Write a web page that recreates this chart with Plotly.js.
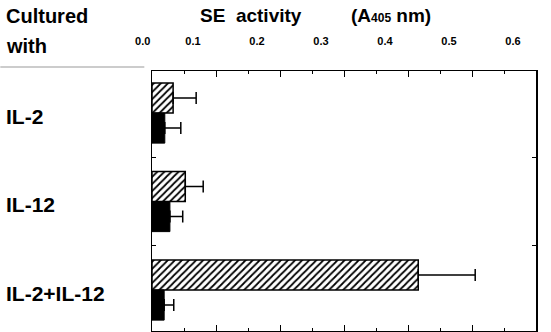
<!DOCTYPE html>
<html>
<head>
<meta charset="utf-8">
<script src="https://cdn.plot.ly/plotly-3.0.1.min.js"></script>
<style>html,body{margin:0;padding:0;background:#fff;}#chart{width:551px;height:332px;}</style>
</head>
<body>
<div id="chart"></div>
<script>
const categories = ["IL-2", "IL-12", "IL-2+IL-12"];
const hatchedValues = [0.033, 0.052, 0.416];
const hatchedErrors = [0.036, 0.028, 0.089];
const blackValues = [0.020, 0.028, 0.019];
const blackErrors = [0.025, 0.020, 0.015];
const tickValues = [0, 0.1, 0.2, 0.3, 0.4, 0.5, 0.6];
const tickLabels = ["\u00a0\u00a0\u00a0\u00a0\u00a0\u00a0\u00a0\u00a0\u00a00.0", "0.1", "0.2", "0.3", "0.4", "0.5", "0.6"];

const FONT = "Liberation Sans, Arial, Helvetica, sans-serif";

const traces = [
  {
    type: "bar", orientation: "h",
    y: categories, x: hatchedValues,
    marker: {
      color: "#ffffff",
      pattern: {shape: "/", fgcolor: "#000000", bgcolor: "#ffffff", size: 5, solidity: 0.35},
      line: {color: "#000000", width: 1.5}
    },
    error_x: {type: "data", array: hatchedErrors, arrayminus: hatchedErrors.map(() => 0), symmetric: false,
              color: "#000000", thickness: 1.5, width: 6},
    showlegend: false, hoverinfo: "skip"
  },
  {
    type: "bar", orientation: "h",
    y: categories, x: blackValues,
    marker: {color: "#000000", line: {color: "#000000", width: 1}},
    error_x: {type: "data", array: blackErrors, arrayminus: blackErrors.map(() => 0), symmetric: false,
              color: "#000000", thickness: 1.5, width: 6},
    showlegend: false, hoverinfo: "skip"
  }
];

const annotations = categories.map(c => ({
  xref: "paper", yref: "y", x: -0.385, y: c, xanchor: "left", yanchor: "middle",
  yshift: -3, text: "<b>" + c + "</b>", showarrow: false,
  font: {family: FONT, size: 21, color: "#000"}
}));
annotations.push(
  {xref: "paper", yref: "paper", x: -0.385, y: 1.21, xanchor: "left", yanchor: "middle",
   text: "<b>Cultured</b>", showarrow: false, font: {family: FONT, size: 20, color: "#000"}},
  {xref: "paper", yref: "paper", x: -0.385, y: 1.095, xanchor: "left", yanchor: "middle",
   text: "<b>with</b>", showarrow: false, font: {family: FONT, size: 20, color: "#000"}},
  {xref: "paper", yref: "paper", x: 0.12, y: 1.215, xanchor: "left", yanchor: "middle",
   text: "<b>SE  activity</b>", showarrow: false, font: {family: FONT, size: 19, color: "#000"}},
  {xref: "paper", yref: "paper", x: 0.513, y: 1.215, xanchor: "left", yanchor: "middle",
   text: "<b>(A<span style='font-size:12px'>405</span> nm)</b>", showarrow: false,
   font: {family: FONT, size: 19, color: "#000"}}
);

const layout = {
  width: 551, height: 332,
  margin: {l: 152, r: 15, t: 71, b: 1, pad: 0},
  paper_bgcolor: "#ffffff", plot_bgcolor: "#ffffff",
  barmode: "group", bargap: 0.32, bargroupgap: 0,
  xaxis: {
    side: "top", range: [0, 0.6], tickvals: tickValues, ticktext: tickLabels,
    ticks: "inside", ticklen: 6, tickwidth: 1, tickcolor: "#000",
    minor: {dtick: 0.05, tick0: 0.05, ticks: "inside", ticklen: 3, tickcolor: "#000"},
    showline: true, linecolor: "#000", linewidth: 1.5, mirror: "ticks",
    showgrid: false, zeroline: false, ticklabelshift: -23, ticklabelstandoff: 20,
    tickfont: {family: FONT, size: 11, color: "#000", weight: "bold"}
  },
  yaxis: {
    type: "category", range: [2.463, -0.475], autorange: false,
    showticklabels: false, ticks: "inside", ticklen: 4, tickson: "boundaries", tickcolor: "#000",
    showline: true, linecolor: "#000", linewidth: 1.5, mirror: "ticks",
    showgrid: false, zeroline: false
  },
  shapes: [
    {type: "line", xref: "paper", yref: "paper", x0: -0.395, x1: -0.02, y0: 1.015, y1: 1.015,
     line: {color: "#bbbbbb", width: 1.5}}
  ],
  annotations: annotations
};

Plotly.newPlot("chart", traces, layout, {displayModeBar: false, staticPlot: true});
</script>
</body>
</html>
